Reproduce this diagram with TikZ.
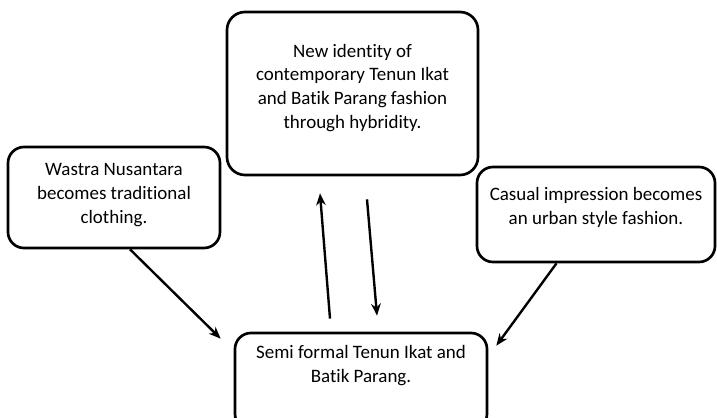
\documentclass[tikz,border=0pt]{standalone}
\usepackage{fontspec}
\setmainfont[Ligatures=NoCommon]{Carlito}
\usetikzlibrary{arrows.meta,calc}

\begin{document}
\begin{tikzpicture}[x=0.25mm,y=-0.25mm, every node/.style={font=\fontsize{13.5}{17}\selectfont,align=center},
  box/.style={draw,line width=1.9pt,rounded corners=4mm},
  link/.style={line width=1.7pt,-{Stealth[length=3mm,width=2.4mm]}}]
\useasboundingbox (0,0) rectangle (717,418);
\clip (0,0) rectangle (717,418);
\node[box,rounded corners=4.5mm,minimum width=62.75mm,minimum height=40.75mm,text depth=3.6mm] (hyb) at (352.5,93.5) {New identity of\\contemporary Tenun Ikat\\and Batik Parang fashion\\through hybridity.};
\node[box,minimum width=53mm,minimum height=25.25mm,text depth=2.1mm] (wastra) at (114,197.5) {Wastra Nusantara\\becomes traditional\\clothing.};
\node[box,minimum width=59.5mm,minimum height=23.75mm,text depth=4.1mm] (casual) at (596,214.5) {Casual impression becomes\\an urban style fashion.};
\node[box,minimum width=63mm,minimum height=24.25mm,text depth=8.6mm] (semi) at (361,381.5) {Semi formal Tenun Ikat and\\Batik Parang.};
\draw[link] ($(semi.north)+(-31,-13)$) -- ($(hyb.south)+(-32.5,17)$);
\draw[link] ($(hyb.south)+(14.5,23)$) -- ($(semi.north)+(16,-16)$);
\draw[link] ($(wastra.south)+(16,0)$) -- ($(semi.north west)+(-13,7)$);
\draw[link] ($(casual.south)+(-39.5,0)$) -- ($(semi.north east)+(8,14)$);
\end{tikzpicture}
\end{document}
